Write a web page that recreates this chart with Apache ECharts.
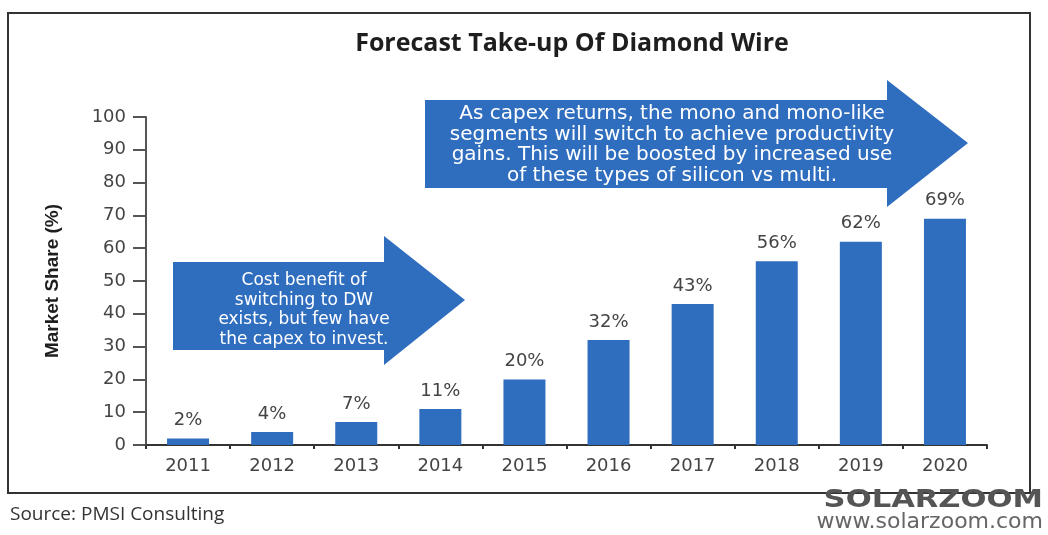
<!DOCTYPE html>
<html>
<head>
<meta charset="utf-8">
<script src="https://cdn.jsdelivr.net/npm/echarts@6/dist/echarts.min.js"></script>
<style>
html,body{margin:0;padding:0;background:#fff;}
#c{width:1048px;height:535px;}
</style>
</head>
<body>
<div id="c"></div>
<script>
const categories = ['2011','2012','2013','2014','2015','2016','2017','2018','2019','2020'];
const marketShare = [2, 4, 7, 11, 20, 32, 43, 56, 62, 69];
const yTicks = [0, 10, 20, 30, 40, 50, 60, 70, 80, 90, 100];
const titleText = 'Forecast Take-up Of Diamond Wire';
const yName = 'Market Share (%)';
const note1 = 'Cost benefit of\nswitching to DW\nexists, but few have\nthe capex to invest.';
const note2 = 'As capex returns, the mono and mono-like\nsegments will switch to achieve productivity\ngains. This will be boosted by increased use\nof these types of silicon vs multi.';
const sourceText = 'Source: PMSI Consulting';

const blue = '#2f6dbf';
const chart = echarts.init(document.getElementById('c'));
chart.setOption({
  backgroundColor: '#fff',
  animation: false,
  title: {
    text: titleText, left: 567, top: 26, textAlign: 'center',
    textStyle: {fontFamily: 'Open Sans', fontSize: 25, fontWeight: 'bold', color: '#1e1e1e'}
  },
  grid: {left: 146, right: 61, top: 117, bottom: 90, containLabel: false},
  xAxis: {
    type: 'category', data: categories,
    axisLine: {lineStyle: {color: '#333', width: 2}},
    axisTick: {show: true, length: 4, lineStyle: {color: '#333', width: 2}},
    axisLabel: {fontFamily: 'DejaVu Sans', fontSize: 18, color: '#444', margin: 12}
  },
  yAxis: {
    type: 'value', min: 0, max: 100, interval: 10,
    name: yName, nameLocation: 'middle', nameGap: 84,
    nameTextStyle: {fontFamily: 'Liberation Sans', fontSize: 19, fontWeight: 'bold', color: '#1e1e1e'},
    axisLine: {show: true, lineStyle: {color: '#555', width: 2}},
    axisTick: {show: true, inside: false, length: 13, lineStyle: {color: '#555', width: 2}},
    splitLine: {show: false},
    axisLabel: {fontFamily: 'DejaVu Sans', fontSize: 18, color: '#444', margin: 20,
      formatter: v => yTicks.includes(v) ? String(v) : ''}
  },
  series: [{
    type: 'bar', data: marketShare, barWidth: 42,
    itemStyle: {color: blue},
    label: {show: true, position: 'top', distance: 9, formatter: '{c}%',
      fontFamily: 'DejaVu Sans', fontSize: 18, color: '#444'}
  }],
  graphic: [
    {type: 'rect', shape: {x: 8, y: 13, width: 1022, height: 480},
     style: {fill: 'none', stroke: '#333', lineWidth: 2}, z: 0},
    {type: 'polygon', shape: {points: [[173,262],[384,262],[384,236],[465,300],[384,365],[384,350],[173,350]]},
     style: {fill: blue}, z: 10},
    {type: 'text', z: 11,
     style: {text: note1, x: 304, y: 271, textAlign: 'center', fill: '#fff',
       font: '17px "DejaVu Sans"', lineHeight: 19.5}},
    {type: 'polygon', shape: {points: [[425,100],[887,100],[887,80],[968,143],[887,207],[887,188],[425,188]]},
     style: {fill: blue}, z: 10},
    {type: 'text', z: 11,
     style: {text: note2, x: 672, y: 104, textAlign: 'center', fill: '#fff',
       font: '20px "DejaVu Sans"', lineHeight: 20.5}},
    {type: 'text', z: 11,
     style: {text: sourceText, x: 10, y: 505, fill: '#333', font: '19px "Open Sans"'}},
    {type: 'text', z: 11, x: 1043, y: 489, scaleX: 1.33, scaleY: 1.05,
     style: {text: 'SOLARZOOM', x: 0, y: 0, textAlign: 'right', fill: '#555',
       font: 'bold 23px "DejaVu Sans"'}},
    {type: 'text', z: 11,
     style: {text: 'www.solarzoom.com', x: 1043, y: 511, textAlign: 'right', fill: '#666',
       font: '22px "DejaVu Sans"'}}
  ]
});
</script>
</body>
</html>
